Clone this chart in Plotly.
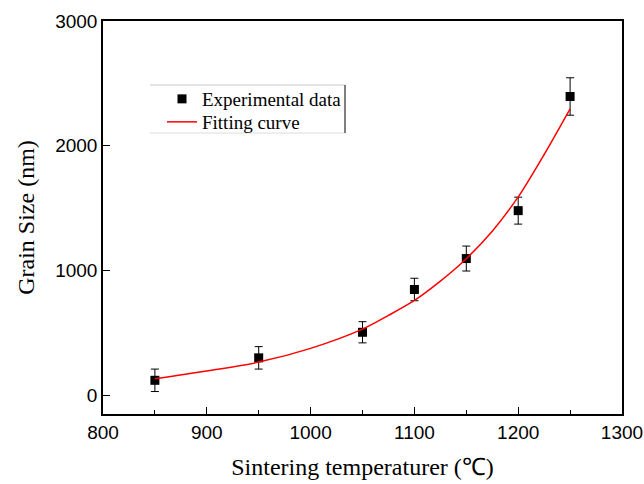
import plotly.graph_objects as go

# Experimental data
temp_exp = [850, 950, 1050, 1100, 1150, 1200, 1250]
grain_exp = [120, 300, 505, 848, 1096, 1480, 2395]
grain_err = [90, 90, 85, 90, 100, 108, 150]

# Fitting curve
temp_fit = [850, 900, 950, 1000, 1050, 1075, 1100, 1125, 1150, 1175, 1200, 1225, 1250]
grain_fit = [133, 195, 266, 376, 530, 640, 760, 915, 1095, 1315, 1590, 1930, 2296]

x_ticks = [800, 900, 1000, 1100, 1200, 1300]
y_ticks = [0, 1000, 2000, 3000]

W, H = 644, 484
L, R, T, B = 103, 22, 21, 70

serif = "Times New Roman, Liberation Serif"
legfont = dict(family=serif, size=19, color="black")

fig = go.Figure()
fig.add_trace(go.Scatter(
    x=temp_exp, y=grain_exp, mode="markers", name="Experimental data",
    marker=dict(symbol="square", size=9, color="black"),
    error_y=dict(type="data", array=grain_err, visible=True, color="black",
                 thickness=1, width=4),
    legend="legend",
))
fig.add_trace(go.Scatter(
    x=temp_fit, y=grain_fit, mode="lines", name="Fitting curve",
    line=dict(color="#ff0000", width=1.5, shape="spline", smoothing=0.8),
    legend="legend2",
))

tickfont = dict(family="Arial, Liberation Sans", size=19, color="black")
titlefont = dict(family=serif, size=24, color="black")

fig.update_xaxes(
    range=[800, 1300], tickvals=x_ticks, ticktext=[str(v) for v in x_ticks],
    ticks="inside", ticklen=7, tickwidth=1, tickcolor="black",
    minor=dict(dtick=50, ticks="inside", ticklen=4, tickwidth=1, tickcolor="black"),
    showline=True, linecolor="black", linewidth=1.5, mirror=True,
    showgrid=False, zeroline=False, tickfont=tickfont, automargin=False,
    title=dict(text="Sintering temperaturer (℃)", font=titlefont, standoff=17),
)
fig.update_yaxes(
    range=[-150, 3000], tickvals=y_ticks, ticktext=[str(v) for v in y_ticks],
    ticks="inside", ticklen=7, tickwidth=1, tickcolor="black",
    showline=True, linecolor="black", linewidth=1.5, mirror=True,
    showgrid=False, zeroline=False, tickfont=tickfont, automargin=False,
    title=dict(text="Grain Size (nm)", font=titlefont, standoff=14),
)

pw = W - L - R
ph = H - T - B
def px(xp):
    return (xp - L) / pw
def py(yp):
    return (H - B - yp) / ph

# legend frame fragments
fig.add_shape(type="line", xref="paper", yref="paper", x0=px(150), x1=px(345),
              y0=py(85), y1=py(85), line=dict(color="#c8c8c8", width=1))
fig.add_shape(type="line", xref="paper", yref="paper", x0=px(150), x1=px(345),
              y0=py(133), y1=py(133), line=dict(color="#dcdcdc", width=1))
fig.add_shape(type="line", xref="paper", yref="paper", x0=px(345), x1=px(345),
              y0=py(85), y1=py(133), line=dict(color="black", width=1))

leg_common = dict(xanchor="left", yanchor="top", bgcolor="rgba(0,0,0,0)",
                  borderwidth=0, font=legfont, itemwidth=30)
fig.update_layout(
    width=W, height=H,
    margin=dict(l=L, r=R, t=T, b=B, autoexpand=False),
    paper_bgcolor="white", plot_bgcolor="white",
    showlegend=True,
    legend=dict(x=px(162), y=py(80), **leg_common),
    legend2=dict(x=px(162), y=py(103), **leg_common),
)

fig.write_html("out.html")
